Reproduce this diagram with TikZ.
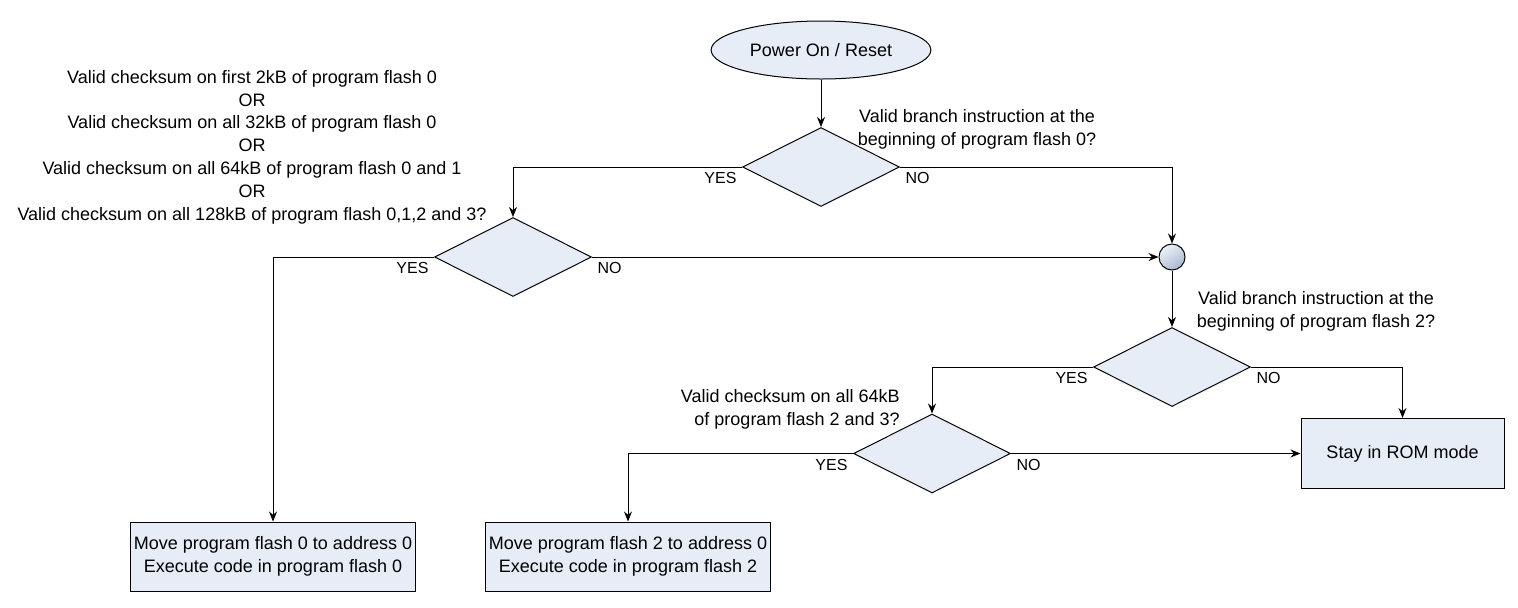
\documentclass[tikz,border=0pt]{standalone}
\usepackage{fontspec}
\setmainfont{Liberation Sans}
\usetikzlibrary{arrows.meta,positioning,shapes.geometric}
\definecolor{chartfill}{HTML}{E6EDF7}
\definecolor{joinlight}{HTML}{EEF2F8}
\definecolor{joindark}{HTML}{A8B9D0}
\tikzset{
  procbox/.style={
    draw,
    fill=chartfill,
    line width=0.5pt,
    minimum width=142.5pt,
    minimum height=34.5pt,
    align=center,
    inner sep=0pt,
    font=\fontsize{9}{11.2}\selectfont
  },
  decision/.style={
    diamond,
    draw,
    fill=chartfill,
    line width=0.5pt,
    minimum width=78.5pt,
    minimum height=39.5pt,
    inner sep=0pt
  },
  startnode/.style={
    ellipse,
    draw,
    fill=chartfill,
    line width=0.5pt,
    minimum width=94pt,
    minimum height=29pt,
    font=\fontsize{9}{11}\selectfont
  },
  joinnode/.style={
    circle,
    draw,
    line width=0.5pt,
    minimum size=13pt,
    inner sep=0pt,
    top color=joinlight,
    bottom color=joindark,
    shading angle=35
  },
  question/.style={
    align=center,
    inner sep=0pt,
    font=\fontsize{9}{11.4}\selectfont
  },
  answer/.style={
    inner sep=2.5pt,
    font=\fontsize{8}{9}\selectfont
  },
  arrow/.style={
    -{Stealth[length=5pt,width=4pt]},
    line width=0.5pt
  }
}

\begin{document}
\begin{tikzpicture}[x=0.5pt,y=-0.5pt]
\useasboundingbox (0,0) rectangle (1518,607);
% shapes
\node[startnode] (start) at (821,50) {Power On / Reset};
\node[decision] (d1) at (821,167) {};
\node[decision] (d2) at (513,257) {};
\node[joinnode] (join) at (1172,257) {};
\node[decision] (d3) at (1172,367) {};
\node[decision] (d4) at (932,453.5) {};
\node[procbox] (runzero) at (273,556.5) {Move program flash 0 to address 0\\Execute code in program flash 0};
\node[procbox] (runtwo) at (628,556.5) {Move program flash 2 to address 0\\Execute code in program flash 2};
\node[procbox, minimum width=101.5pt, minimum height=35pt] (rom) at (1402.5,453.5) {Stay in ROM mode};
% questions
\node[question] (q1) at (977,129.5) {Valid branch instruction at the\\beginning of program flash 0?};
\node[question] (q2) at (252,147) {Valid checksum on first 2kB of program flash 0\\OR\\Valid checksum on all 32kB of program flash 0\\OR\\Valid checksum on all 64kB of program flash 0 and 1\\OR\\Valid checksum on all 128kB of program flash 0,1,2 and 3?};
\node[question] (q3) at (1316,311.5) {Valid branch instruction at the\\beginning of program flash 2?};
\node[question, align=right, anchor=east] (q4) at (900,409.5) {Valid checksum on all 64kB\\of program flash 2 and 3?};
% connectors
\draw[arrow] (start) -- (d1);
\draw[arrow] (d1.west) node[answer, below left] {YES} -| (d2.north);
\draw[arrow] (d1.east) node[answer, below right] {NO} -| (join.north);
\draw[arrow] (d2.west) node[answer, below left] {YES} -| (runzero.north);
\draw[arrow] (d2.east) node[answer, below right] {NO} -- (join.west);
\draw[arrow] (join) -- (d3);
\draw[arrow] (d3.west) node[answer, below left] {YES} -| (d4.north);
\draw[arrow] (d3.east) node[answer, below right] {NO} -| (rom.north);
\draw[arrow] (d4.west) node[answer, below left] {YES} -| (runtwo.north);
\draw[arrow] (d4.east) node[answer, below right] {NO} -- (rom.west);
\end{tikzpicture}
\end{document}
